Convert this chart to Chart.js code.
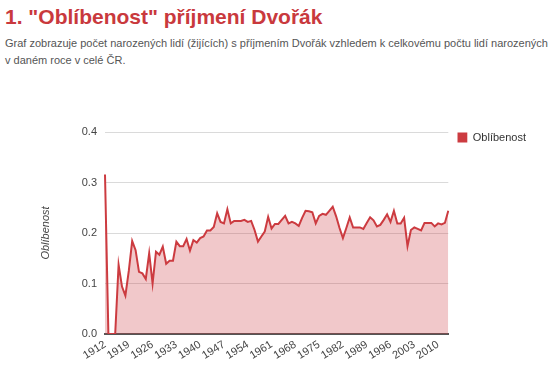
<!DOCTYPE html>
<html>
<head>
<meta charset="utf-8">
<script src="https://cdn.jsdelivr.net/npm/chart.js@4"></script>
<style>
  body { margin: 0; background: #fff; font-family: "Liberation Sans", Arial, sans-serif; }
  #title { position: absolute; left: 5px; top: 5px; margin: 0; font-size: 21px; font-weight: bold; color: #c9393d; }
  #sub { position: absolute; left: 5px; top: 35px; margin: 0; font-size: 11px; line-height: 17px; color: #555; width: 545px; }
  #wrap { position: absolute; left: 0; top: 100px; width: 550px; height: 275px; }
</style>
</head>
<body>
<h1 id="title">1. "Oblíbenost" příjmení Dvořák</h1>
<p id="sub">Graf zobrazuje počet narozených lidí (žijících) s příjmením Dvořák vzhledem k celkovému počtu lidí narozených<br>v daném roce v celé ČR.</p>
<div id="wrap"><canvas id="chart"></canvas></div>
<script>
// years 1912 - 2013
var years = [];
for (var y = 1912; y <= 2013; y++) years.push(String(y));

var oblibenost = [
  0.316, 0, 0, 0, 0.137, 0.094, 0.076, 0.125, 0.184, 0.166,
  0.123, 0.120, 0.109, 0.160, 0.100, 0.163, 0.157, 0.173, 0.139, 0.145,
  0.145, 0.183, 0.174, 0.174, 0.188, 0.165, 0.186, 0.181, 0.190, 0.193,
  0.205, 0.205, 0.212, 0.239, 0.222, 0.219, 0.247, 0.219, 0.224, 0.224,
  0.224, 0.226, 0.222, 0.224, 0.206, 0.183, 0.193, 0.203, 0.232, 0.209,
  0.218, 0.218, 0.226, 0.234, 0.219, 0.222, 0.219, 0.214, 0.230, 0.244,
  0.243, 0.241, 0.219, 0.234, 0.238, 0.236, 0.244, 0.252, 0.233, 0.210,
  0.190, 0.210, 0.231, 0.211, 0.211, 0.211, 0.208, 0.220, 0.231, 0.225,
  0.213, 0.216, 0.226, 0.237, 0.222, 0.244, 0.219, 0.219, 0.230, 0.174,
  0.206, 0.211, 0.208, 0.205, 0.220, 0.220, 0.220, 0.213, 0.219, 0.217,
  0.220, 0.244
];

var seriesLabel = 'Oblíbenost';
var lineColor = '#cc3b40';

var chart = new Chart(document.getElementById('chart'), {
    type: 'line',
    data: {
        labels: years,
        datasets: [{
            label: seriesLabel,
            data: oblibenost,
            borderColor: lineColor,
            backgroundColor: 'rgba(204, 59, 64, 0.28)',
            borderWidth: 2,
            pointRadius: 0,
            tension: 0,
            fill: 'origin'
        }]
    },
    options: {
        animation: false,
        responsive: true,
        maintainAspectRatio: false,
        layout: { padding: { top: 32, right: 23, bottom: 0, left: 35 } },
        plugins: {
            tooltip: { enabled: false },
            legend: {
                position: 'right',
                align: 'start',
                labels: {
                    boxWidth: 10,
                    boxHeight: 10,
                    color: '#333',
                    font: { family: 'Liberation Sans', size: 11 },
                    padding: 0,
                    generateLabels: function (c) {
                        var items = Chart.defaults.plugins.legend.labels.generateLabels(c);
                        items.forEach(function (it) {
                            it.fillStyle = lineColor;
                            it.lineWidth = 0;
                        });
                        return items;
                    }
                }
            }
        },
        scales: {
            x: {
                grid: { display: false, drawTicks: false },
                border: { display: true, color: '#555', width: 2 },
                ticks: {
                    autoSkip: false,
                    maxRotation: 32,
                    minRotation: 32,
                    padding: 4,
                    color: '#444',
                    font: { family: 'Liberation Sans', size: 11 },
                    callback: function (v, i) {
                        return (i % 7 === 0) ? years[i] : '';
                    }
                },
                afterFit: function (s) { s.height = 41; }
            },
            y: {
                min: 0,
                max: 0.4,
                grid: { color: '#dadada', drawTicks: false },
                border: { display: false },
                ticks: {
                    stepSize: 0.1,
                    padding: 8,
                    color: '#444',
                    font: { family: 'Liberation Sans', size: 11 },
                    callback: function (v) { return v.toFixed(1); }
                },
                title: {
                    display: true,
                    text: seriesLabel,
                    color: '#444',
                    font: { family: 'Liberation Sans', size: 11, style: 'italic' }
                },
                afterFit: function (s) { s.width = 70; }
            }
        }
    },
    plugins: [{
        // leave a small gap between the plot and the legend
        id: 'legendGap',
        afterLayout: function (c) {
            c.legend.left += 9;
            c.legend.right += 9;
        }
    }]
});
</script>
</body>
</html>
